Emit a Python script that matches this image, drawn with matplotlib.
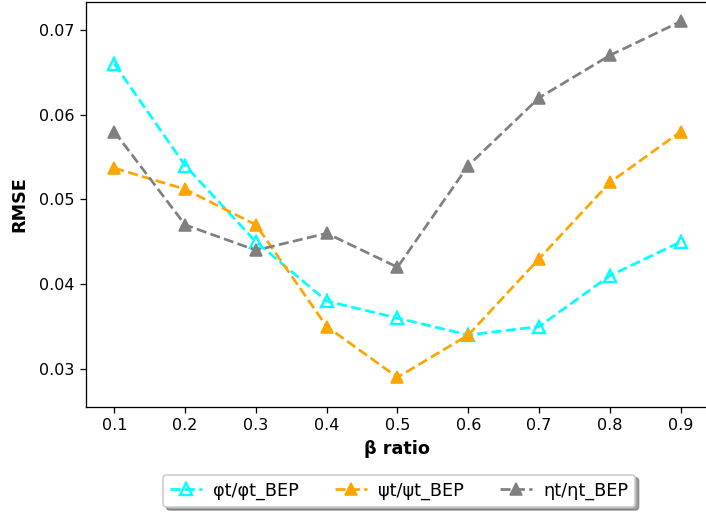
import numpy as np
import matplotlib
matplotlib.use("Agg")
import matplotlib.pyplot as plt

# beta ratio on the x axis
beta = [0.1, 0.2, 0.3, 0.4, 0.5, 0.6, 0.7, 0.8, 0.9]

# RMSE per normalised quantity
rmse_phi = [0.066, 0.054, 0.045, 0.038, 0.036, 0.034, 0.035, 0.041, 0.045]
rmse_psi = [0.0537, 0.0512, 0.047, 0.035, 0.029, 0.034, 0.043, 0.052, 0.058]
rmse_eta = [0.058, 0.047, 0.044, 0.046, 0.042, 0.054, 0.062, 0.067, 0.071]

labels = ["φt/φt_BEP", "ψt/ψt_BEP", "ηt/ηt_BEP"]

DPI = 115
fig = plt.figure(figsize=(706 / DPI, 512 / DPI), dpi=DPI)
ax = fig.add_axes([86 / 706, 105 / 512, 623 / 706, 405 / 512])

ax.plot(beta, rmse_phi, linestyle="--", marker="^", color="cyan",
        markerfacecolor="none", markersize=8, markeredgewidth=1.5,
        linewidth=1.7, label=labels[0])
ax.plot(beta, rmse_psi, linestyle="--", marker="^", color="orange",
        markersize=8, linewidth=1.7, label=labels[1])
ax.plot(beta, rmse_eta, linestyle="--", marker="^", color="gray",
        markersize=8, linewidth=1.7, label=labels[2])

ax.set_xticks(beta)
ax.set_yticks([0.03, 0.04, 0.05, 0.06, 0.07])
ax.set_ylim(0.0255, 0.0733)
ax.tick_params(labelsize=10)
ax.set_xlabel("β ratio", fontweight="bold", fontsize=11)
ax.set_ylabel("RMSE", fontweight="bold", fontsize=11, labelpad=7)

ax.legend(loc="upper center", bbox_to_anchor=(0.503, -0.145), ncol=3,
          shadow=True, fontsize=11, handlelength=1.8, handletextpad=0.65,
          columnspacing=2.05)

fig.savefig("out.png", dpi=DPI)
